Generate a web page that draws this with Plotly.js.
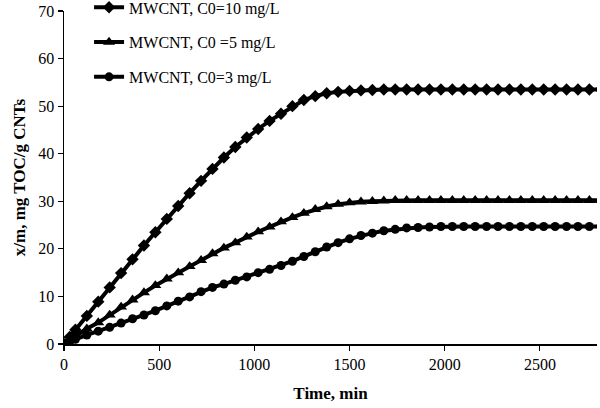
<!DOCTYPE html>
<html>
<head>
<meta charset="utf-8">
<script src="https://cdn.plot.ly/plotly-3.0.1.min.js"></script>
<style>html,body{margin:0;padding:0;background:#fff;}#chart{width:600px;height:408px;}</style>
</head>
<body>
<div id="chart"></div>
<script>
var time = [0, 30, 60, 120, 180, 240, 300, 360, 420, 480, 540, 600, 660, 720, 780, 840, 900, 960, 1020, 1080, 1140, 1200, 1260, 1320, 1380, 1440, 1500, 1560, 1620, 1680, 1740, 1800, 1860, 1920, 1980, 2040, 2100, 2160, 2220, 2280, 2340, 2400, 2460, 2520, 2580, 2640, 2700, 2760, 2820];

var c10 = [0, 1.5, 3.0, 5.9, 8.9, 11.9, 14.9, 17.8, 20.7, 23.5, 26.3, 29.0, 31.7, 34.3, 36.8, 39.2, 41.4, 43.4, 45.2, 46.9, 48.4, 50.0, 51.3, 52.1, 52.7, 53.0, 53.2, 53.3, 53.4, 53.5, 53.5, 53.5, 53.5, 53.5, 53.5, 53.5, 53.5, 53.5, 53.5, 53.5, 53.5, 53.5, 53.5, 53.5, 53.5, 53.5, 53.5, 53.5, 53.5];

var c5 = [0, 0.8, 1.6, 3.2, 4.5, 6.1, 7.8, 9.3, 10.8, 12.3, 13.7, 15.0, 16.3, 17.6, 19.0, 20.2, 21.3, 22.5, 23.6, 24.6, 25.7, 26.6, 27.5, 28.3, 28.9, 29.4, 29.7, 29.9, 30.0, 30.1, 30.2, 30.2, 30.2, 30.2, 30.2, 30.2, 30.2, 30.2, 30.2, 30.2, 30.2, 30.2, 30.2, 30.2, 30.2, 30.2, 30.2, 30.2, 30.2];

var c3 = [0, 0.5, 1.0, 1.9, 2.7, 3.5, 4.4, 5.3, 6.1, 7.0, 8.0, 9.0, 9.9, 11.0, 11.9, 12.6, 13.4, 14.1, 15.0, 15.7, 16.5, 17.4, 18.4, 19.4, 20.4, 21.3, 22.1, 22.8, 23.3, 23.8, 24.1, 24.4, 24.5, 24.6, 24.7, 24.7, 24.7, 24.7, 24.7, 24.7, 24.7, 24.7, 24.7, 24.7, 24.7, 24.7, 24.7, 24.7, 24.7];

var seriesNames = ["MWCNT, C0=10 mg/L", "MWCNT, C0 =5 mg/L", "MWCNT, C0=3 mg/L"];
var xTicks = [0, 500, 1000, 1500, 2000, 2500];
var yTicks = [0, 10, 20, 30, 40, 50, 60, 70];

var font = "Liberation Serif, Times New Roman, serif";

function mk(y, name, sym, size, grp) {
  return {
    x: time, y: y, name: name, type: "scatter", mode: "lines+markers",
    legendgroup: grp,
    line: {color: "#000", width: 4},
    marker: {symbol: sym, size: size, color: "#000"}
  };
}

var data = [
  mk(c10, seriesNames[0], "diamond", 9.5, "a"),
  mk(c5, seriesNames[1], "triangle-up", 10.5, "b"),
  mk(c3, seriesNames[2], "circle", 9, "c")
];

var layout = {
  width: 600, height: 408,
  margin: {l: 64, r: 3, t: 11, b: 64, autoexpand: false},
  paper_bgcolor: "#fff", plot_bgcolor: "#fff",
  font: {family: font, size: 16, color: "#000"},
  showlegend: true,
  legend: {
    x: 0.047, y: 1.062, xanchor: "left", yanchor: "top",
    bgcolor: "rgba(0,0,0,0)", font: {family: font, size: 16, color: "#000"},
    traceorder: "grouped", tracegroupgap: 11
  },
  xaxis: {
    range: [0, 2800], tickvals: xTicks, ticktext: xTicks.map(String),
    showline: true, linecolor: "#000", linewidth: 1.5,
    ticks: "outside", ticklen: 5, tickwidth: 1.2, tickcolor: "#000",
    showgrid: false, zeroline: false,
    tickfont: {family: font, size: 16},
    title: {text: "<b>Time, min</b>", font: {family: font, size: 17}, standoff: 15}
  },
  yaxis: {
    range: [0, 70], tickvals: yTicks, ticktext: yTicks.map(String),
    showline: true, linecolor: "#000", linewidth: 1.5,
    ticks: "outside", ticklen: 5, tickwidth: 1.2, tickcolor: "#000",
    showgrid: false, zeroline: false,
    tickfont: {family: font, size: 16},
    title: {text: "<b>x/m, mg TOC/g CNTs</b>", font: {family: font, size: 17}, standoff: 8}
  }
};

Plotly.newPlot("chart", data, layout, {displayModeBar: false, staticPlot: true});
</script>
</body>
</html>
